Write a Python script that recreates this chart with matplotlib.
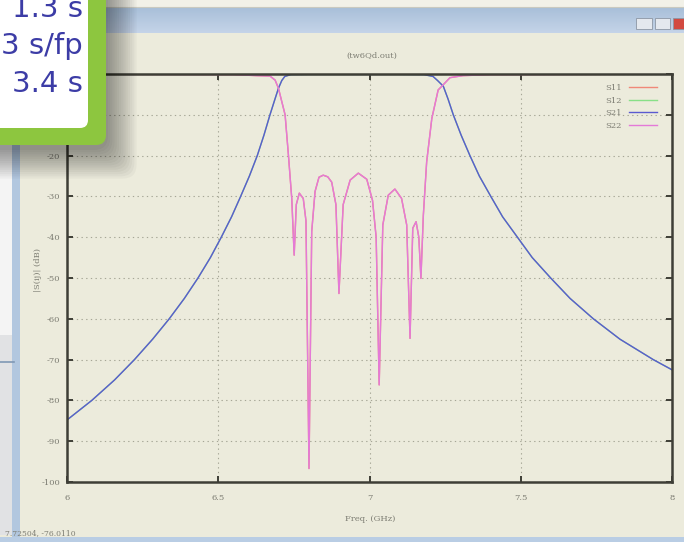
import numpy as np
import matplotlib
matplotlib.use("Agg")
import matplotlib.pyplot as plt
from matplotlib.patches import Rectangle, FancyBboxPatch

plt.rcParams["axes.unicode_minus"] = False

# S21 / S12 transmission (GHz, dB)
freq_s21 = [6.000, 6.082, 6.157, 6.223, 6.283, 6.338, 6.388, 6.433, 6.474, 6.510,
            6.544, 6.574, 6.603, 6.629, 6.651, 6.671, 6.686, 6.699, 6.710, 6.720,
            6.740, 6.800, 6.900, 7.000, 7.100, 7.180, 7.210, 7.225, 7.244, 7.260,
            7.277, 7.303, 7.332, 7.363, 7.401, 7.440, 7.489, 7.538, 7.599, 7.663,
            7.740, 7.828, 7.938, 8.000]
s21_db = [-84.8, -80.0, -75.0, -70.0, -65.0, -60.0, -55.0, -50.0, -45.0, -40.0,
          -35.0, -30.0, -25.0, -20.0, -15.0, -10.0, -6.5, -3.5, -1.6, -0.6,
          -0.15, -0.1, -0.1, -0.1, -0.1, -0.15, -0.6, -1.6, -3.0, -6.2,
          -10.0, -15.0, -20.0, -25.0, -30.0, -35.0, -40.0, -45.0, -50.0, -55.0,
          -60.0, -65.0, -70.0, -72.5]

# S22 / S11 reflection (GHz, dB)
freq_s22 = [6.000, 6.550, 6.627, 6.671, 6.688, 6.699, 6.721, 6.732, 6.743, 6.751,
            6.758, 6.768, 6.781, 6.790, 6.800, 6.809, 6.820, 6.833, 6.847, 6.862,
            6.875, 6.889, 6.899, 6.913, 6.936, 6.963, 6.991, 7.010, 7.022, 7.032,
            7.044, 7.062, 7.084, 7.106, 7.123, 7.134, 7.143, 7.154, 7.163, 7.170,
            7.178, 7.189, 7.206, 7.227, 7.243, 7.266, 7.309, 7.400, 8.000]
s22_db = [-0.05, -0.15, -0.4, -0.5, -1.5, -3.5, -10.0, -19.9, -30.5, -44.4,
          -32.0, -29.2, -30.5, -36.0, -96.7, -38.6, -28.8, -25.3, -24.8, -25.2,
          -26.5, -32.0, -53.8, -32.0, -26.0, -24.3, -25.8, -31.0, -40.0, -76.2,
          -37.0, -29.7, -28.2, -30.5, -37.0, -64.8, -37.8, -36.2, -40.0, -50.1,
          -34.6, -21.5, -10.9, -3.9, -2.7, -0.9, -0.4, -0.15, -0.05]
s11_db = s22_db
s12_db = s21_db

x_ticks = [6, 6.5, 7, 7.5, 8]
x_tick_labels = ["6", "6.5", "7", "7.5", "8"]
y_ticks = list(range(-100, 1, 10))

popup_lines = ["1.3 s", "3 s/fp", "3.4 s"]

W, H = 684, 542
beige = "#ecebdc"
gray_txt = "#7c7c72"
frame = "#3e3e36"

fig = plt.figure(figsize=(W / 100, H / 100), dpi=100)
fig.patch.set_facecolor(beige)


def px_rect(l, t, r, b):
    return [l / W, 1 - b / H, (r - l) / W, (b - t) / H]


# window decoration behind the plot
bg = fig.add_axes([0, 0, 1, 1])
bg.axis("off")
bg.add_patch(Rectangle((0, 0), W, 7, color="#f2f1e8", lw=0))
bg.plot([0, W], [6.5, 6.5], color="#c9c9c0", lw=0.8)
bar = np.linspace(0, 1, 30)[:, None, None]
top_c = np.array([0.66, 0.75, 0.85])
bot_c = np.array([0.77, 0.83, 0.91])
bg.imshow(top_c * (1 - bar) + bot_c * bar, extent=(100, W, 33, 7), aspect="auto")
for x0, x1, fc in [(636, 652, "#e4e8ee"), (655, 670, "#e4e8ee"), (673, 690, "#d24a40")]:
    bg.add_patch(Rectangle((x0, 18), x1 - x0, 11, fc=fc, ec="#8c96a4", lw=0.6))
bg.add_patch(Rectangle((0, 140), 12, 195, color="#f4f4f4", lw=0))
bg.add_patch(Rectangle((0, 335), 12, 200, color="#e1e2e4", lw=0))
bg.plot([0, 14], [362, 362], color="#7f98b4", lw=1.2)
bg.add_patch(Rectangle((12, 140), 8, 400, color="#b2c7df", lw=0))
bg.add_patch(Rectangle((0, 537), W, 6, color="#b9cde4", lw=0))
bg.set_xlim(0, W)
bg.set_ylim(H, 0)

# the plot itself
ax = fig.add_axes(px_rect(67, 74, 672, 482))
ax.set_facecolor(beige)
ax.plot(freq_s22, s11_db, color="#f08878", lw=1.0, label="S11")
ax.plot(freq_s21, s12_db, color="#88e088", lw=1.0, label="S12")
ax.plot(freq_s21, s21_db, color="#5a5ad0", lw=1.0, label="S21")
ax.plot(freq_s22, s22_db, color="#e47ad8", lw=1.0, label="S22")
ax.set_xlim(6, 8)
ax.set_ylim(-100, 0)
ax.set_xticks(x_ticks)
ax.set_xticklabels(x_tick_labels)
ax.set_yticks(y_ticks)
ax.grid(True, linestyle=(0, (1.2, 3)), color="#a6a696", lw=0.8)
for s in ax.spines.values():
    s.set_color(frame)
    s.set_linewidth(1.8)
ax.tick_params(direction="in", length=4, width=1.4, color=frame, top=True, right=True,
               labelsize=6, labelcolor=gray_txt)
ax.tick_params(axis="x", pad=9)
ax.tick_params(axis="y", pad=5)
for lab in ax.get_xticklabels() + ax.get_yticklabels():
    lab.set_family("DejaVu Serif")
leg = ax.legend(loc="upper right", bbox_to_anchor=(661 / W, 1 - 80 / H),
                bbox_transform=fig.transFigure, frameon=False, markerfirst=False,
                handlelength=3.4, handletextpad=0.8, labelspacing=0.55,
                borderpad=0, prop={"family": "DejaVu Serif", "size": 6})
for t in leg.get_texts():
    t.set_color(gray_txt)

fig.text(372 / W, 1 - 56 / H, "(tw6Qd.out)", ha="center", va="center",
         fontsize=6, color=gray_txt, family="DejaVu Serif")
fig.text(370 / W, 1 - 519 / H, "Freq. (GHz)", ha="center", va="center",
         fontsize=6, color=gray_txt, family="DejaVu Serif")
fig.text(38 / W, 1 - 270 / H, "|S(ij)| (dB)", ha="center", va="center", rotation=90,
         fontsize=6, color=gray_txt, family="DejaVu Serif")
fig.text(5 / W, 1 - 533 / H, "7.72504, -76.0110", ha="left", va="center",
         fontsize=5.5, color=gray_txt, family="DejaVu Serif")

# timing popup in the corner, with its soft shadow
fg = fig.add_axes([0, 0, 1, 1], zorder=10)
fg.axis("off")
for i in range(14):
    grow = 2.2 * i
    fg.add_patch(FancyBboxPatch((-40, -40), 148 + grow, 190 + grow,
                                boxstyle="round,pad=0,rounding_size=14",
                                fc="black", ec="none", alpha=0.03))
fg.add_patch(FancyBboxPatch((-40, -40), 146, 185, boxstyle="round,pad=0,rounding_size=10",
                            fc="#8dc63f", ec="none"))
fg.add_patch(FancyBboxPatch((-40, -40), 128, 168, boxstyle="round,pad=0,rounding_size=8",
                            fc="white", ec="none"))
for i, txt in enumerate(popup_lines):
    fg.text(83, 17 + 37.5 * i, txt, ha="right", va="baseline", fontsize=21,
            color="#3c3ca6")
fg.set_xlim(0, W)
fg.set_ylim(H, 0)

fig.savefig("out.png", dpi=100, facecolor=fig.get_facecolor())
